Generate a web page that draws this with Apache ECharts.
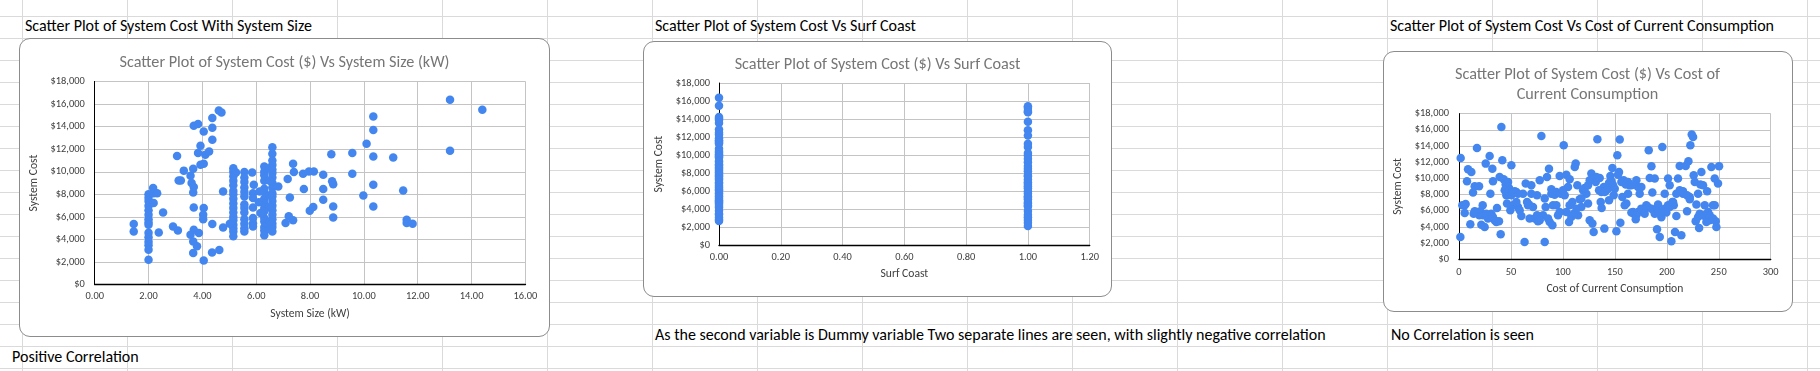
<!DOCTYPE html>
<html><head><meta charset="utf-8">
<script src="https://cdn.jsdelivr.net/npm/echarts@6/dist/echarts.min.js"></script>
<style>
html,body{margin:0;padding:0;width:1820px;height:371px;overflow:hidden;background:#fff;}
.vl{position:absolute;top:0;width:1px;height:371px;background:#dadada;}
.hl{position:absolute;left:0;height:1px;width:1820px;background:#dadada;}
.cell{position:absolute;font-family:Carlito,'Liberation Sans',Arial,sans-serif;font-size:16px;color:#000;white-space:nowrap;line-height:18px;}
.box{position:absolute;box-sizing:border-box;border:1px solid #8c8c8c;border-radius:11px;background:#fff;}
.chart{position:absolute;}
</style></head>
<body>
<div id="sheet"></div>
<script>
// ---------------- DATA ----------------
const yTicks = [0, 2000, 4000, 6000, 8000, 10000, 12000, 14000, 16000, 18000];
const sizeTicks = [0, 2, 4, 6, 8, 10, 12, 14, 16];
const surfTicks = [0, 0.2, 0.4, 0.6, 0.8, 1.0, 1.2];
const consumptionTicks = [0, 50, 100, 150, 200, 250, 300];

// Chart 1: [System Size kW, System Cost $]
const sizeVsCost = [
 [1.45,5370],[1.45,4720],
 [2,8000],[2,7700],[2,7400],[2,7000],[2,6600],[2,6200],[2,5800],[2,5500],[2,5300],[2,4600],[2,4200],[2,3800],[2,3500],[2,3100],[2,2200],
 [2.17,8555],[2.19,8100],[2.32,8100],[2.19,7230],[2.54,6400],[2.38,4630],[2.91,5160],[3.09,4800],
 [3.06,11400],[3.12,9230],[3.2,9230],[3.31,10100],[3.56,9650],[3.6,9000],[3.68,8640],[3.66,10270],[3.68,6840],[3.66,8170],
 [3.68,14070],[3.84,14220],[4.05,13570],[3.93,12300],[3.84,11650],[3.93,10620],[4.05,10700],[4.11,11500],[4.25,11800],
 [4.37,12830],[4.37,14750],[4.37,13900],[4.61,15430],[4.71,15250],
 [3.56,4425],[3.68,4870],[3.87,4570],[3.66,3835],[3.8,3400],[3.66,2800],[4.05,2150],[4.05,6800],[4.03,6200],[4.03,5800],
 [4.37,5370],[4.36,2860],[4.63,3070],[4.77,8260],[4.77,5070],
 [5.15,10300],[5.15,10000],[5.15,9600],[5.15,9200],[5.15,8800],[5.15,8300],[5.15,8000],[5.15,7600],[5.15,7200],[5.15,6800],[5.15,6400],[5.15,6000],[5.15,5700],[5.15,5300],[5.15,5000],[5.15,4700],[5.15,4300],
 [5.02,5400],[5.25,9940],
 [5.56,9970],[5.56,9500],[5.56,9100],[5.56,8600],[5.56,8200],[5.56,7800],[5.56,7100],[5.56,6800],[5.56,6400],[5.56,5800],[5.56,5400],[5.56,5000],[5.56,4700],
 [5.85,9940],[5.91,8850],[5.88,8100],[5.88,7670],[5.88,6840],[5.88,5900],[5.88,5450],[5.88,5160],
 [6.3,10470],[6.3,10000],[6.3,9700],[6.3,9200],[6.3,8500],[6.3,8200],[6.3,7600],[6.3,7200],[6.3,6800],[6.3,6500],[6.3,5900],[6.3,5600],[6.3,5100],[6.3,4800],[6.3,4370],
 [6.13,8260],[6.1,7290],[6.16,6340],
 [6.6,12180],[6.6,11600],[6.6,11000],[6.6,10600],[6.6,10200],[6.6,9900],[6.6,9500],[6.6,9000],[6.6,8600],[6.6,8100],[6.6,7800],[6.6,7400],[6.6,7000],[6.6,6600],[6.6,6200],[6.6,5800],[6.6,5400],[6.6,5100],[6.6,4720],
 [6.5,10300],[6.5,9200],[6.5,7900],[6.5,6900],[6.5,5600],[6.5,4900],
 [6.82,8700],[7.09,5460],[7.21,6050],[7.37,5700],[7.17,9350],[7.25,7730],[7.37,10710],[7.4,9970],[7.74,9820],[7.77,8470],
 [7.96,10030],[8.14,10030],[7.99,6550],[8.12,6870],[8.49,9740],[8.49,8470],[8.49,7520],[8.79,11560],[8.86,8900],[8.86,6930],[8.86,5960],[8.82,9150],
 [9.57,11650],[9.57,9820],[9.98,7900],[10.1,12480],[10.35,14900],[10.35,13700],[10.35,11360],[10.35,8850],[10.35,6930],
 [11.09,11270],[11.46,8350],[11.59,5750],[11.59,5460],[11.81,5400],[13.2,16370],[13.2,11860],[14.4,15490]
];

// Chart 2: System Cost for Surf Coast = 0 and = 1
const costSurfCoastNo = [16370,15490,14220,14070,13900,13570,12830,12480,12300,11860,11650,11560,11400,11270,10700,10470,10300,10100,9940,9820,9700,9350,9230,9000,8850,8640,8470,8260,8100,7900,7730,7600,7400,7230,7000,6840,6600,6400,6200,6050,5800,5700,5460,5370,5160,5000,4870,4720,4570,4370,4200,3835,3500,3400,3070,2860,2700];
const costSurfCoastYes = [15430,15250,14900,14750,13700,12750,12180,11270,10900,10240,9970,9600,9200,8800,8500,8200,7800,7670,7290,7000,6800,6550,6340,6000,5750,5450,5300,5100,4800,4630,4425,4300,3800,3400,3100,2800,2500,2150];

// Chart 3: [Cost of Current Consumption, System Cost $]
const consumptionVsCost = [
 [1.3,2760],[1.6,12520],[3.2,6670],[5.5,5730],[6.4,6840],[7.7,9640],[8.7,11120],[11.9,10790],[10.9,4330],[13.5,8240],[15.1,9020],[17.3,13760],[19.3,9020],[14.1,5640],[15.7,5850],[17.6,5850],[19.6,5440],[20.5,5930],[22.8,6670],[21.5,4280],[24.7,4000],[25.7,11820],[27.9,5030],[29.5,12770],[30.2,8110],[31.1,5640],[32.1,11200],[32.7,9640],[34.3,4820],[36.6,6340],[38.5,4700],[39.1,10170],[40.1,3090],[40.8,16350],[41.7,12230],[43,9890],[44.9,9230],[45.6,7910],[46.2,6880],[48.1,8810],[49.4,6050],[50.4,11620],[50.4,7910],[52,6670],[53.6,8400],[55.2,8320],[56.8,6470],[58.4,6050],[60,5350],[61.6,8110],[63.1,2140],[64.2,9350],[65.5,7080],[67.4,6760],[68,5030],[69.6,9140],[71.2,6470],[72.8,5030],[75.1,7910],[76,4700],[77.7,9760],[79.3,15240],[80.9,5440],[82.5,2140],[83.4,6470],[84.7,10170],[86.6,11200],[87.3,4610],[88.9,8650],[89.9,4200],[92.1,7990],[93.7,8320],[95.3,5440],[96.9,10300],[97.9,8110],[100.8,14090],[101.7,7910],[103.3,10460],[103.3,5850],[105.9,4610],[106.5,9890],[109.1,7080],[111.4,11410],[112.3,11820],[113.9,9140],[114.6,5440],[116.2,7410],[117.8,6470],[119.4,8530],[122.6,8110],[124.2,6880],[125.8,4820],[127.4,10590],[128.4,4410],[129.6,3380],[131.6,9560],[133.2,14830],[135.4,10050],[136.4,7080],[137.3,6340],[139.3,8940],[139.9,3790],[141.8,8530],[144.4,7290],[145.7,10300],[147.6,11290],[148.9,7910],[149.9,8730],[151.5,3460],[152.4,12850],[154,10790],[154.7,14790],[155.3,4530],[157.2,7700],[158.5,9760],[159.5,6670],[161.1,6880],[162.7,8110],[164.3,9140],[165.9,5770],[167.5,5850],[170.1,4940],[170.7,9760],[172.3,8940],[173.9,8110],[175.5,8940],[177.1,5850],[178.7,6260],[180.3,6670],[182.6,13470],[183.6,10050],[185.2,11490],[186.1,8240],[187.4,6050],[188.4,9970],[190.6,3710],[191.6,6760],[193.2,2760],[194.8,5190],[195.7,13880],[198,8110],[199.6,5770],[201.2,9970],[202.8,9140],[204.4,2220],[205.4,7080],[206.7,6670],[207.9,3380],[209.2,5350],[210.8,9970],[212.4,11530],[214,2970],[215.6,8110],[218.2,11530],[219.5,5930],[220.8,12110],[222.1,7700],[222.7,14090],[224,15410],[225.3,15120],[225.9,10380],[227.8,4700],[228.5,6760],[230.1,8110],[231.1,3870],[232.3,9230],[233.3,10790],[234.9,9140],[236.5,6670],[237.5,5230],[238.8,8400],[239.7,5850],[241.3,4820],[242.9,11410],[244.5,6670],[246.1,9970],[247.1,4700],[247.7,4000],[249.3,9350],[250.3,11490],
 [5.5,6670],[15.1,5930],[23.1,5440],[26.3,5640],[29.5,5440],[32.7,5230],[35.9,4610],[44,8530],[47.2,9560],[52,8320],[55.2,7080],[56.8,8110],[66.4,6670],[69.6,8110],[75.1,5440],[77.7,4820],[82.5,7500],[85.7,5030],[88.9,8110],[90.5,6670],[93.7,6670],[96.9,5850],[100.1,8530],[104.9,8940],[106.5,6670],[108.1,5230],[110.4,5640],[113,6260],[117.8,7500],[121,8810],[124.2,9140],[125.8,9760],[129,9890],[132.2,10170],[134.8,8530],[137,8320],[140.2,8320],[143.4,8730],[144.4,9470],[146.7,9640],[148.3,9140],[153.1,10460],[156.3,9560],[160.5,9230],[162.7,9560],[165.9,9140],[168.2,5640],[170.7,5440],[172.3,5850],[175.5,6260],[178.7,5640],[181.9,6470],[185.2,6260],[188.4,5640],[191.6,5930],[194.8,5850],[198,6260],[201.2,6670],[202.8,6470],[206,7080],[209.2,8110],[212.4,8530],[215.6,8400],[219.5,7910],[222.1,7410],[226.9,9560],[230.1,5230],[231.7,5640],[234.9,5440],[238.1,4610],[241.3,5440],[244.5,5030],[246.1,6670]
];

const texts = [
 {t:'Scatter Plot of System Cost With System Size', x:25, y:17},
 {t:'Scatter Plot of System Cost Vs Surf Coast', x:655, y:17},
 {t:'Scatter Plot of System Cost Vs Cost of Current Consumption', x:1390, y:17},
 {t:'As the second variable is Dummy variable Two separate lines are seen, with slightly negative correlation', x:655, y:326},
 {t:'No Correlation is seen', x:1391, y:326},
 {t:'Positive Correlation', x:12, y:347.5}
];

// ---------------- SHEET ----------------
const sheet = document.getElementById('sheet');
for (let x = 22; x < 1820; x += 105) { const d = document.createElement('div'); d.className='vl'; d.style.left = x+'px'; sheet.appendChild(d); }
for (let y = 15.5; y < 371; y += 22) { const d = document.createElement('div'); d.className='hl'; d.style.top = Math.round(y)+'px'; sheet.appendChild(d); }
texts.forEach(o => { const d = document.createElement('div'); d.className='cell'; d.textContent=o.t; d.style.left=o.x+'px'; d.style.top=o.y+'px'; sheet.appendChild(d); });

const FONT = "Carlito, 'Liberation Sans', Arial, sans-serif";
const BLUE = '#4386f0';
const money = v => '$' + Number(v).toLocaleString('en-US');

function makeChart(c) {
  const box = document.createElement('div'); box.className='box';
  Object.assign(box.style, {left:c.L+'px', top:c.T+'px', width:c.W+'px', height:c.H+'px'});
  sheet.appendChild(box);
  const el = document.createElement('div'); el.className='chart';
  Object.assign(el.style, {left:c.L+'px', top:c.T+'px', width:c.W+'px', height:c.H+'px'});
  sheet.appendChild(el);
  const ch = echarts.init(el, null, {renderer:'canvas'});
  const xt = c.xTicks;
  ch.setOption({
    animation:false,
    textStyle:{fontFamily:FONT},
    title:{text:c.title, left:'center', top:c.titleTop, textStyle:{fontFamily:FONT, fontSize:16.2, fontWeight:'normal', color:'#767676', lineHeight:19.3}},
    grid:{left:c.g[0], top:c.g[1], width:c.g[2], height:c.g[3]},
    xAxis:{type:'value', min:xt[0], max:xt[xt.length-1], interval:xt[1]-xt[0],
      name:c.xName, nameLocation:'middle', nameGap:c.xNameGap,
      nameTextStyle:{fontFamily:FONT, fontSize:11.6, color:'#404040'},
      axisLine:{show:true, onZero:false, lineStyle:{color:'#000', width:1.4}},
      axisTick:{show:false},
      axisLabel:{formatter:c.xFmt, margin:c.xMargin, fontFamily:FONT, fontSize:10.4, color:'#404040'},
      splitLine:{show:true, lineStyle:{color:'#c4c4c4', width:1}}},
    yAxis:{type:'value', min:yTicks[0], max:yTicks[yTicks.length-1], interval:yTicks[1]-yTicks[0],
      name:'System Cost', nameLocation:'middle', nameGap:c.yNameGap,
      nameTextStyle:{fontFamily:FONT, fontSize:11.6, color:'#404040'},
      axisLine:{show:true, lineStyle:{color:'#000', width:1}},
      axisTick:{show:false},
      axisLabel:{formatter:money, margin:c.yMargin, fontFamily:FONT, fontSize:10.4, color:'#404040'},
      splitLine:{show:true, lineStyle:{color:'#c4c4c4', width:1}}},
    series:[{type:'scatter', data:c.data, symbolSize:8.5, clip:false, itemStyle:{color:BLUE, opacity:1}}]
  });
}

makeChart({L:18.6, T:38.3, W:531, H:298.4, title:'Scatter Plot of System Cost ($) Vs System Size (kW)', titleTop:10,
  g:[75.7, 43.4, 430.7, 203.3], xTicks:sizeTicks, xFmt:v=>Number(v).toFixed(2), xName:'System Size (kW)', xNameGap:23, xMargin:7,
  yNameGap:49, yMargin:10, data:sizeVsCost});

makeChart({L:643.3, T:40.7, W:469, H:256, title:'Scatter Plot of System Cost ($) Vs Surf Coast', titleTop:9,
  g:[76, 42, 370.7, 162.3], xTicks:surfTicks, xFmt:v=>Number(v).toFixed(2), xName:'Surf Coast', xNameGap:23, xMargin:7,
  yNameGap:47, yMargin:9, data:costSurfCoastNo.map(v=>[0,v]).concat(costSurfCoastYes.map(v=>[1,v]))});

makeChart({L:1383.3, T:50.7, W:409.4, H:261.6, title:'Scatter Plot of System Cost ($) Vs Cost of\nCurrent Consumption', titleTop:9.5,
  g:[76, 62.6, 311.7, 145.7], xTicks:consumptionTicks, xFmt:v=>String(v), xName:'Cost of Current Consumption', xNameGap:24, xMargin:8,
  yNameGap:48, yMargin:10, data:consumptionVsCost});
</script>
</body></html>
